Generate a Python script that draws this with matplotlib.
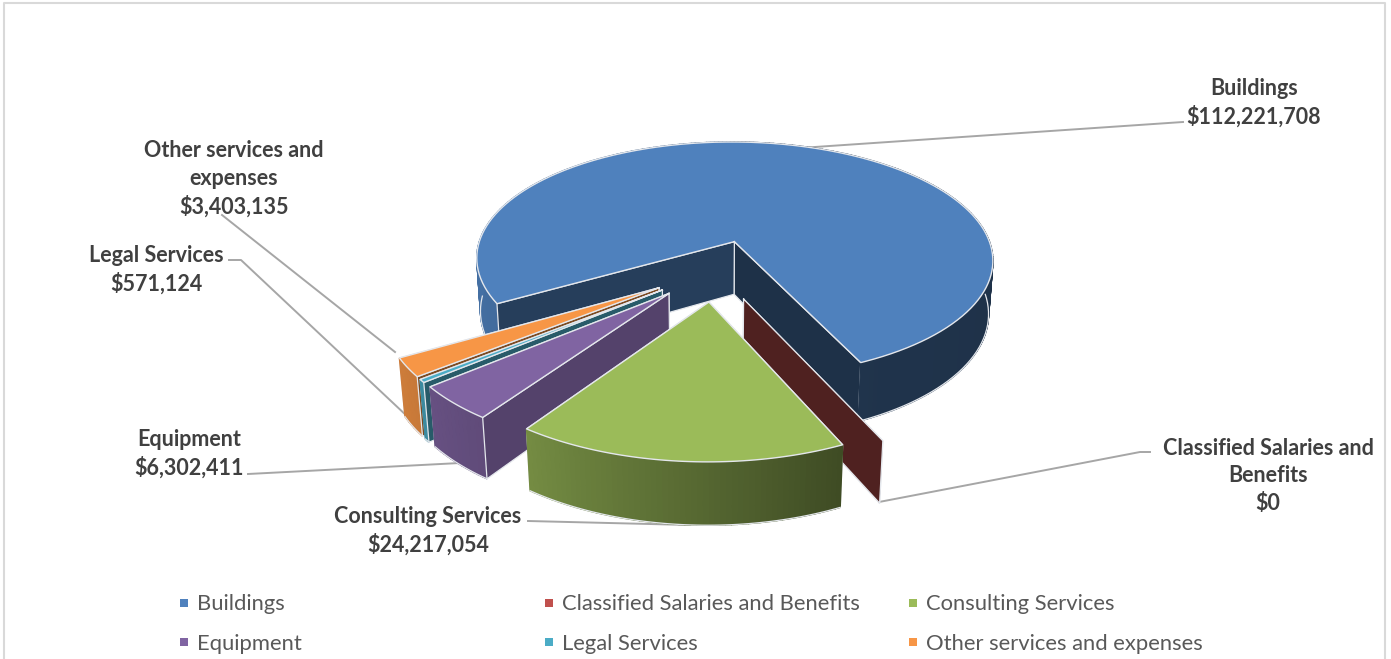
import matplotlib
matplotlib.use('Agg')
import matplotlib.pyplot as plt
import numpy as np
from matplotlib.colors import to_rgb

names = ['Buildings', 'Classified Salaries and Benefits', 'Consulting Services',
         'Equipment', 'Legal Services', 'Other services and expenses']
values = [112221708, 0, 24217054, 6302411, 571124, 3403135]
colors = ['#4f81bd', '#c0504d', '#9bbb59', '#8064a2', '#4bacc6', '#f79646']
wrapped = ['Buildings', 'Classified Salaries and\nBenefits', 'Consulting Services',
           'Equipment', 'Legal Services', 'Other services and\nexpenses']

# pixel position of each label and its leader line
label_pos = [(1254, 103), (1268, 476), (428, 531), (189, 454), (156, 270), (234, 179)]
leaders = [[(1183, 122), (800, 148)],
           [(1150, 452), (1140, 452), (879, 502)],
           [(528, 521), (690, 525)],
           [(248, 474), (460, 463)],
           [(229, 260), (241, 260), (425, 433)],
           [(222, 215), (395, 352)]]
# shade of the two flat walls of each slice
start_shade = [0.48, 0.41, 0.5, 0.66, 0.53, 0.5]
end_shade = [0.38, 0.41, 0.5, 0.66, 0.53, 0.5]

# perspective of the pie, fitted by eye
cx, cy = 715, 270
a, b, k = 264.6, 123.5, 0.157
drop, m = 55, 0.016
explode = 0.25
first_angle = -120
edge = '#e4e7ec'
layer = [3]


def next_z():
    layer[0] += 1
    return layer[0]


def proj(x, y, z=0):
    w = 1 - k * y + m * z
    return cx + a * x / w, cy + (b * y + drop * z) / w


def shade(color, f):
    return tuple(c * f for c in to_rgb(color))


def rim_shade(phi):
    return np.interp(phi % 360, [0, 90, 155, 215, 240, 270, 360],
                     [0.4, 0.38, 0.40, 0.75, 0.83, 0.87, 0.6])


def wall(ax, ox, oy, phi, color, f):
    x1, y1 = ox + np.sin(np.radians(phi)), oy - np.cos(np.radians(phi))
    px = [proj(ox, oy), proj(x1, y1), proj(x1, y1, 1), proj(ox, oy, 1)]
    ax.fill(*zip(*px), color=shade(color, f), lw=0, zorder=next_z())
    ax.plot(*zip(*px, px[0]), color=edge, lw=0.9, zorder=next_z())


def draw_slice(ax, i, start, span):
    color = colors[i]
    mid = np.radians(start + span / 2)
    ox, oy = explode * np.sin(mid), -explode * np.cos(mid)
    # a wall on the far side has to go under the rim
    hidden_start = 0 <= start % 360 < 180
    wall(ax, ox, oy, start + span, color, end_shade[i])
    if hidden_start:
        wall(ax, ox, oy, start, color, start_shade[i])
    if span > 0:
        phis = np.linspace(start, start + span, max(8, int(span)))
        xs = ox + np.sin(np.radians(phis))
        ys = oy - np.cos(np.radians(phis))
        for j in range(len(phis) - 1):
            tx, ty = proj(xs[j:j + 2], ys[j:j + 2])
            bx, by = proj(xs[j:j + 2], ys[j:j + 2], 1)
            f = rim_shade((phis[j] + phis[j + 1]) / 2)
            ax.fill(np.r_[tx, bx[::-1]], np.r_[ty, by[::-1]], color=shade(color, f),
                    ec=shade(color, f), lw=1.0, zorder=next_z())
        front = (phis % 360 > 90) & (phis % 360 < 270) | (phis < -90)
        bx, by = proj(xs, ys, 1)
        bx[~front] = np.nan
        ax.plot(bx, by, color=edge, lw=0.9, zorder=next_z())
    if not hidden_start:
        wall(ax, ox, oy, start, color, start_shade[i])
    if span > 0:
        tx, ty = proj(np.r_[ox, xs], np.r_[oy, ys])
        ax.fill(tx, ty, color=color, lw=0, zorder=next_z())
        ax.plot(np.r_[tx, tx[0]], np.r_[ty, ty[0]], color=edge, lw=1.0, zorder=next_z())


fig = plt.figure(figsize=(13.91, 6.59), dpi=100)
ax = fig.add_axes([0, 0, 1, 1])
ax.set_xlim(0, 1391)
ax.set_ylim(659, 0)
ax.axis('off')

# chart frame, cut off at the bottom
ax.plot([4, 4, 1385, 1385], [659, 3, 3, 659], color='#d9d9d9', lw=1.5, zorder=1)

for line in leaders:
    ax.plot(*zip(*line), color='#a6a6a6', lw=1.4, zorder=2)

spans = np.array(values) / sum(values) * 360
starts = first_angle + np.r_[0, np.cumsum(spans)[:-1]]
for i in [0, 1, 5, 4, 3, 2]:
    draw_slice(ax, i, starts[i], spans[i])

top = next_z()
for i in range(len(names)):
    ax.text(label_pos[i][0], label_pos[i][1], f'{wrapped[i]}\n${values[i]:,}',
            ha='center', va='center', family='Lato', weight='bold', fontsize=15.5,
            color='#404040', linespacing=1.37, zorder=top)

# legend
leg_x = [184, 549, 913]
leg_y = [603, 642]
for i in range(len(names)):
    x, y = leg_x[i % 3], leg_y[i // 3]
    ax.plot(x, y, 's', ms=5.2, color=colors[i], mew=0, zorder=top)
    ax.text(x + 13, y + 1 + i // 3, names[i], ha='left', va='center', family='Lato',
            fontsize=15.8, color='#595959', zorder=top)

fig.savefig('out.png', dpi=100)
